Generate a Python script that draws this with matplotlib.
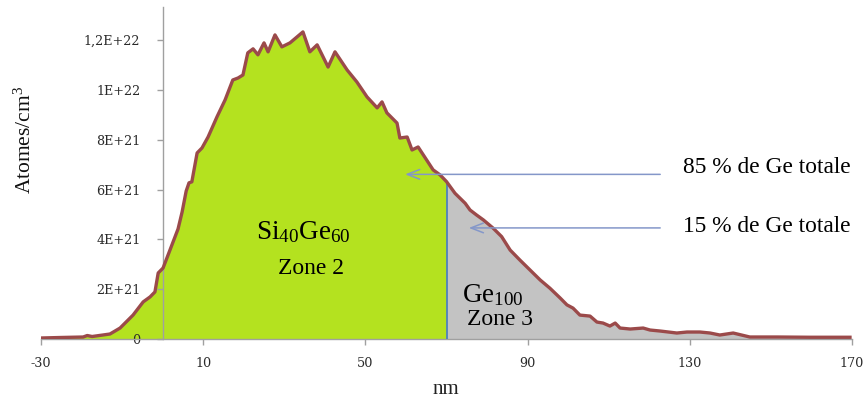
import matplotlib
matplotlib.use('Agg')
import matplotlib.pyplot as plt
import numpy as np

# ---- data ----
depth_nm = [-30.0, -25.3, -19.6, -18.6, -17.4, -13.0, -10.5, -7.3, -4.8, -3.1,
            -1.9, -1.1, 0.1, 1.8, 3.8, 4.8, 5.8, 6.5, 7.2, 8.5,
            9.7, 11.2, 13.4, 15.4, 17.3, 18.6, 19.8, 21.0, 22.3, 23.5,
            25.0, 26.0, 27.7, 29.4, 31.4, 34.6, 36.3, 38.1, 40.8, 42.5,
            45.5, 47.9, 50.4, 52.9, 54.1, 55.3, 57.8, 58.5, 60.3, 61.5,
            63.0, 66.7, 68.4, 70.0, 72.1, 74.6, 75.8, 77.4, 79.1, 81.5,
            83.6, 85.7, 88.1, 90.6, 93.1, 95.5, 98.0, 99.7, 101.2, 102.9,
            105.4, 107.1, 108.6, 110.3, 111.6, 112.8, 115.3, 118.5, 120.2, 122.7,
            126.8, 129.3, 132.5, 135.0, 137.4, 140.7, 144.8, 151.5, 159.6, 169.5]
conc_e21 = [0.04, 0.06, 0.08, 0.14, 0.10, 0.20, 0.44, 0.96, 1.49, 1.69,
            1.89, 2.65, 2.85, 3.57, 4.42, 5.10, 5.94, 6.27, 6.31, 7.47,
            7.67, 8.11, 8.92, 9.60, 10.40, 10.48, 10.60, 11.49, 11.65, 11.41,
            11.89, 11.53, 12.21, 11.73, 11.89, 12.33, 11.53, 11.81, 10.92, 11.53,
            10.80, 10.32, 9.72, 9.28, 9.52, 9.08, 8.67, 8.07, 8.11, 7.59,
            7.71, 6.79, 6.59, 6.32, 5.85, 5.45, 5.18, 4.98, 4.78, 4.45,
            4.11, 3.57, 3.17, 2.77, 2.37, 2.04, 1.65, 1.37, 1.24, 0.96,
            0.92, 0.68, 0.64, 0.52, 0.64, 0.44, 0.40, 0.44, 0.36, 0.32,
            0.24, 0.28, 0.28, 0.24, 0.16, 0.24, 0.08, 0.08, 0.07, 0.07]
zone_boundary_nm = 70.0
x_ticks = [-30, 10, 50, 90, 130, 170]
y_ticks = [0, 2e21, 4e21, 6e21, 8e21, 1e22, 1.2e22]
y_tick_labels = ['0', '2E+21', '4E+21', '6E+21', '8E+21', '1E+22', '1,2E+22']

# ---- style ----
plt.rcParams['mathtext.fontset'] = 'custom'
plt.rcParams['mathtext.rm'] = 'Liberation Serif'
plt.rcParams['mathtext.it'] = 'Liberation Serif:italic'
plt.rcParams['mathtext.bf'] = 'Liberation Serif:bold'
SERIF = 'Liberation Serif'
GREEN = '#B4E21F'
GREY = '#C3C3C3'
CURVE = '#9B4A4A'
AXIS = '#A0A0A0'
ARROW = '#8497C9'

W, H = 867, 400
fig = plt.figure(figsize=(W / 100, H / 100), dpi=100)
ax = fig.add_axes([41 / W, 61 / H, 811 / W, 332 / H])

x = np.array(depth_nm)
y = np.array(conc_e21) * 1e21
m1 = x <= zone_boundary_nm
m2 = x >= zone_boundary_nm
ax.fill_between(x[m1], 0, y[m1], color=GREEN, lw=0, zorder=1)
ax.fill_between(x[m2], 0, y[m2], color=GREY, lw=0, zorder=1)
yb = y[x == zone_boundary_nm][0]
ax.vlines(zone_boundary_nm, 0, yb, color='#4F81BD', lw=1.3, zorder=3)
ax.plot(x, y, color=CURVE, lw=2.4, solid_joinstyle='round', zorder=4)

ax.set_xlim(-30, 170)
ax.set_ylim(0, 13.33e21)

for s in ['top', 'right']:
    ax.spines[s].set_visible(False)
ax.spines['left'].set_position(('data', 0))
for s in ['left', 'bottom']:
    ax.spines[s].set_color(AXIS)
    ax.spines[s].set_linewidth(1.0)
    ax.spines[s].set_zorder(2.5)

ax.set_xticks(x_ticks)
ax.set_xticklabels([str(v) for v in x_ticks])
ax.set_yticks(y_ticks)
ax.set_yticklabels(y_tick_labels)
ax.tick_params(axis='both', direction='out', length=4, width=1.0, color=AXIS,
               labelcolor='#2a2a2a', labelsize=9.2)
ax.tick_params(axis='y', pad=12)
ax.tick_params(axis='x', pad=9)
for lab in ax.get_xticklabels() + ax.get_yticklabels():
    lab.set_family('DejaVu Serif')

# axis titles
fig.text(25 / W, 1 - 140 / H, 'Atomes/cm$^{3}$', rotation=90, ha='center', va='center',
         family=SERIF, fontsize=15.5, color='#111111')
fig.text(446 / W, 1 - 389 / H, 'nm', ha='center', va='center',
         family=SERIF, fontsize=15, color='#222222')

# annotations
ax.text(34.6, 4.3e21, r'$\mathrm{Si_{40}Ge_{60}}$', ha='center', va='center', fontsize=19.5, color='black')
ax.text(36.6, 2.85e21, 'Zone 2', ha='center', va='center', family=SERIF, fontsize=17, color='black')
ax.text(81.5, 1.77e21, r'$\mathrm{Ge_{100}}$', ha='center', va='center', fontsize=19.5, color='black')
ax.text(83.2, 0.8e21, 'Zone 3', ha='center', va='center', family=SERIF, fontsize=17, color='black')
ax.text(128.3, 6.87e21, '85 % de Ge totale', ha='left', va='center', family=SERIF, fontsize=16.8, color='black')
ax.text(128.3, 4.5e21, '15 % de Ge totale', ha='left', va='center', family=SERIF, fontsize=16.8, color='black')

ax.annotate('', xy=(59.8, 6.61e21), xytext=(122.7, 6.61e21),
            arrowprops=dict(arrowstyle='->,head_length=0.9,head_width=0.35', color=ARROW, lw=1.1,
                            shrinkA=0, shrinkB=0), zorder=5)
ax.annotate('', xy=(75.5, 4.46e21), xytext=(122.7, 4.46e21),
            arrowprops=dict(arrowstyle='->,head_length=0.9,head_width=0.35', color=ARROW, lw=1.1,
                            shrinkA=0, shrinkB=0), zorder=5)

fig.savefig('out.png', dpi=100)
